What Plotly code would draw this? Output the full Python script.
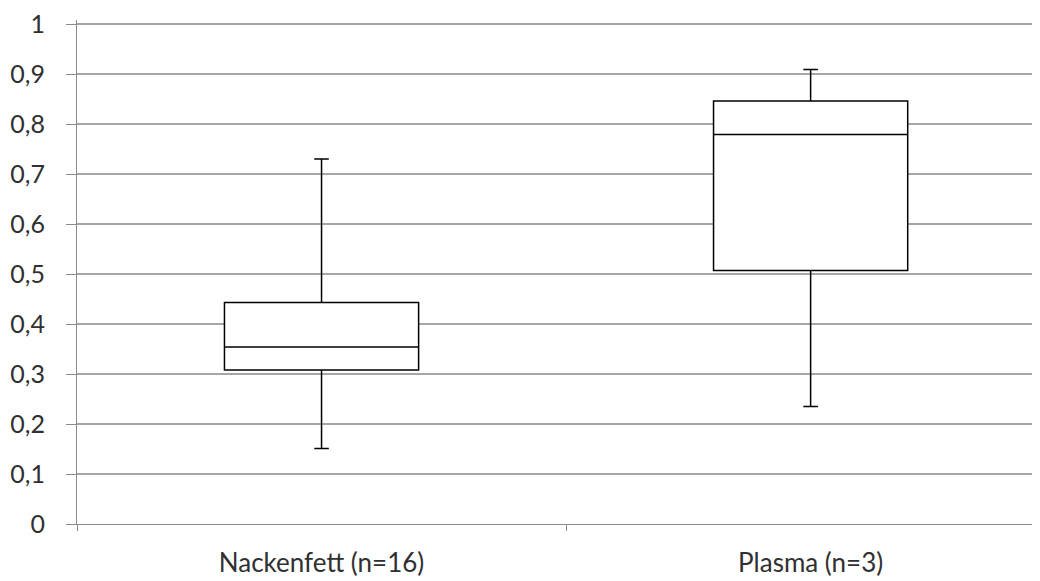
import plotly.graph_objects as go

categories = ["Nackenfett (n=16)", "Plasma (n=3)"]
lower_whisker = [0.151, 0.235]
q1_values = [0.308, 0.507]
medians = [0.354, 0.779]
q3_values = [0.443, 0.846]
upper_whisker = [0.730, 0.909]
y_ticks = [0, 0.1, 0.2, 0.3, 0.4, 0.5, 0.6, 0.7, 0.8, 0.9, 1]

fig = go.Figure()
fig.add_trace(go.Box(
    x=categories,
    q1=q1_values,
    median=medians,
    q3=q3_values,
    lowerfence=lower_whisker,
    upperfence=upper_whisker,
    boxpoints=False,
    fillcolor="white",
    line=dict(color="black", width=1.5),
    width=0.397,
    whiskerwidth=0.075,
    showlegend=False,
))

# page body has an 8px margin: shrink figure so the plot area lands where the reference has it
fig.update_layout(
    width=1032, height=573,
    margin=dict(l=69, r=0, t=8, b=57),
    paper_bgcolor="white", plot_bgcolor="white",
    separators=", ",
    font=dict(family="Lato", size=24, color="#303030"),
    xaxis=dict(
        type="category",
        range=[-0.5, 1.469],
        showline=True, linecolor="#8c8c8c", linewidth=1,
        ticks="outside", tickson="boundaries", ticklen=6, tickcolor="#8c8c8c",
        showgrid=False,
        tickfont=dict(size=26),
        ticklabelstandoff=16,
    ),
    yaxis=dict(
        range=[0, 1.008],
        tickvals=y_ticks,
        tickformat=".1~f",
        showline=True, linecolor="#8c8c8c", linewidth=1,
        ticks="outside", ticklen=10, tickcolor="#8c8c8c",
        showgrid=True, gridcolor="#a6a6a6", gridwidth=1.5,
        zeroline=False,
        tickfont=dict(size=25),
        ticklabelstandoff=16,
        ticklabeloverflow="allow",
    ),
)

fig.write_html("out.html")
